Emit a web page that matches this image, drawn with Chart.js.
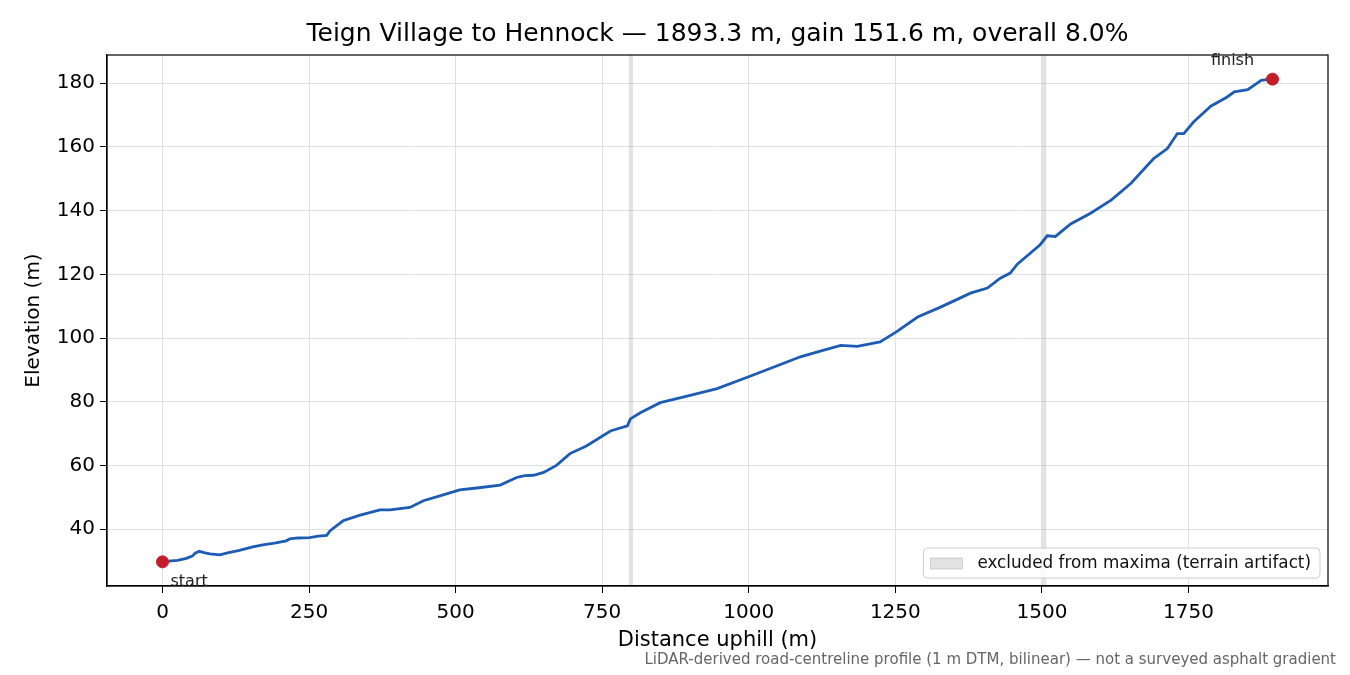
<!DOCTYPE html>
<html>
<head>
<meta charset="utf-8">
<script src="https://cdn.jsdelivr.net/npm/chart.js@4.4.1/dist/chart.umd.min.js"></script>
<style>
  html, body { margin: 0; padding: 0; background: #fff; }
  #wrap { width: 1350px; height: 675px; }
</style>
</head>
<body>
<div id="wrap"><canvas id="chart" width="1350" height="675"></canvas></div>
<script>
// profile
const distance = [0, 10.5, 25.6, 40.7, 50.7, 55.7, 62.7, 70.8, 80.8, 97.9, 111, 131, 154, 171, 191, 211, 217, 231, 251, 266, 280, 286,
  308, 337, 371, 388, 422, 445, 473, 507, 536, 576, 604, 618, 633, 650, 672, 695, 723, 764, 793, 798,
  815, 849, 900, 946, 1002, 1054, 1088, 1128, 1157, 1185, 1224, 1253, 1288, 1327, 1361, 1378, 1407, 1429,
  1446, 1458, 1497, 1509, 1523, 1549, 1583, 1618, 1652, 1691, 1714, 1731, 1742, 1759, 1788, 1816, 1828,
  1851, 1874, 1886, 1893.3];
const elevation = [29.7, 29.9, 30.2, 30.8, 31.5, 32.4, 33.0, 32.6, 32.2, 31.9, 32.5, 33.3, 34.4, 35.0, 35.6, 36.3, 36.9, 37.2, 37.3, 37.8, 38.0, 39.5,
  42.6, 44.4, 46.0, 46.0, 46.8, 48.9, 50.4, 52.3, 52.9, 53.8, 56.2, 56.8, 56.9, 57.8, 60.0, 63.7, 66.1, 70.8, 72.4, 74.6,
  76.5, 79.7, 82.0, 84.1, 88.0, 91.7, 94.1, 96.2, 97.7, 97.4, 98.8, 102.1, 106.6, 109.7, 112.6, 114.1, 115.7, 118.8,
  120.4, 123.2, 129.3, 132.1, 131.9, 135.8, 139.2, 143.3, 148.6, 156.4, 159.5, 164.2, 164.2, 167.9, 172.8, 175.7, 177.3,
  178.0, 180.9, 181.2, 181.3];

// excluded stretches (terrain artifacts)
const bandStart = [795, 1500];
const bandEnd = [803, 1508];

const xTicks = [0, 250, 500, 750, 1000, 1250, 1500, 1750];
const yTicks = [40, 60, 80, 100, 120, 140, 160, 180];

const titleText = 'Teign Village to Hennock — 1893.3 m, gain 151.6 m, overall 8.0%';
const footText = 'LiDAR-derived road-centreline profile (1 m DTM, bilinear) — not a surveyed asphalt gradient';
const bandLabel = 'excluded from maxima (terrain artifact)';

const FONT = '"DejaVu Sans", sans-serif';
const BAND_FILL = 'rgba(128,128,128,0.22)';

// matplotlib-like 5% margins
const xSpan = distance[distance.length - 1] - distance[0];
const ySpan = Math.max(...elevation) - Math.min(...elevation);
const xMin = distance[0] - xSpan * 0.05, xMax = distance[distance.length - 1] + xSpan * 0.05;
const yMin = Math.min(...elevation) - ySpan * 0.05, yMax = Math.max(...elevation) + ySpan * 0.05;

const profile = distance.map((d, i) => ({ x: d, y: elevation[i] }));
const ends = [profile[0], profile[profile.length - 1]];

const bandSets = bandStart.map((s, i) => ({
    type: 'line',
    label: bandLabel,
    data: [{ x: s, y: yMax }, { x: bandEnd[i], y: yMax }],
    borderWidth: 0,
    borderColor: 'rgba(0,0,0,0)',
    backgroundColor: BAND_FILL,
    pointRadius: 0,
    fill: 'start',
    order: 3
}));

const decorations = {
    id: 'decorations',
    afterDraw(chart) {
        const { ctx, chartArea: a, scales } = chart;
        ctx.save();
        // frame
        ctx.strokeStyle = '#000';
        ctx.lineWidth = 1.2;
        ctx.strokeRect(a.left, a.top, a.right - a.left, a.bottom - a.top);

        // title
        ctx.fillStyle = '#000';
        ctx.font = '25px ' + FONT;
        ctx.textAlign = 'center';
        ctx.textBaseline = 'middle';
        ctx.fillText(titleText, (a.left + a.right) / 2, 34);

        // start / finish notes
        ctx.font = '16px ' + FONT;
        ctx.fillStyle = '#222';
        const sx = scales.x.getPixelForValue(ends[0].x), sy = scales.y.getPixelForValue(ends[0].y);
        ctx.textAlign = 'left';
        ctx.fillText('start', sx + 8, sy + 20);
        const fx = scales.x.getPixelForValue(ends[1].x), fy = scales.y.getPixelForValue(ends[1].y);
        ctx.textAlign = 'center';
        ctx.fillText('finish', fx - 40, fy - 18);

        // legend box, lower right
        ctx.font = '16.8px ' + FONT;
        const tw = ctx.measureText(bandLabel).width;
        const bw = tw + 63, bh = 30;
        const bx = a.right - 8 - bw, by = a.bottom - 8 - bh;
        ctx.fillStyle = 'rgba(255,255,255,0.85)';
        ctx.strokeStyle = '#cccccc';
        ctx.lineWidth = 1;
        ctx.beginPath();
        ctx.roundRect(bx, by, bw, bh, 4);
        ctx.fill();
        ctx.stroke();
        ctx.fillStyle = BAND_FILL;
        ctx.fillRect(bx + 7, by + 10, 32, 11);
        ctx.strokeStyle = 'rgba(128,128,128,0.3)';
        ctx.strokeRect(bx + 7, by + 10, 32, 11);
        ctx.fillStyle = '#111';
        ctx.textAlign = 'left';
        ctx.fillText(bandLabel, bx + 54, by + bh / 2 + 1);

        // footnote
        ctx.font = '15px ' + FONT;
        ctx.fillStyle = '#666';
        ctx.textAlign = 'right';
        ctx.fillText(footText, 1336, 660);
        ctx.restore();
    }
};

new Chart(document.getElementById('chart'), {
    type: 'line',
    data: {
        datasets: [
            ...bandSets,
            {
                label: 'profile',
                data: profile,
                borderColor: '#1c5cb4',
                borderWidth: 2.8,
                pointRadius: 0,
                tension: 0,
                fill: false,
                order: 2
            },
            {
                type: 'scatter',
                label: 'ends',
                data: ends,
                backgroundColor: '#c21d2b',
                borderColor: '#c21d2b',
                pointRadius: 6,
                order: 1
            }
        ]
    },
    options: {
        responsive: false,
        animation: false,
        layout: { padding: { top: 55, right: 22, left: 0, bottom: 0 } },
        plugins: {
            legend: { display: false },
            title: { display: false },
            tooltip: { enabled: false }
        },
        scales: {
            x: {
                type: 'linear',
                min: xMin,
                max: xMax,
                afterBuildTicks: axis => { axis.ticks = xTicks.map(v => ({ value: v })); },
                afterFit: axis => { axis.height = 89; },
                grid: { color: '#e0e0e0', lineWidth: 1, tickColor: '#000', tickLength: 7 },
                border: { display: true, color: '#000', width: 1.2 },
                ticks: { color: '#000', font: { family: FONT, size: 20 }, padding: 8, maxRotation: 0, callback: v => String(v) },
                title: { display: true, text: 'Distance uphill (m)', color: '#000', font: { family: FONT, size: 21 }, padding: { top: 0, bottom: 22 } }
            },
            y: {
                type: 'linear',
                min: yMin,
                max: yMax,
                afterBuildTicks: axis => { axis.ticks = yTicks.map(v => ({ value: v })); },
                afterFit: axis => { axis.width = 107; },
                grid: { color: '#e0e0e0', lineWidth: 1, tickColor: '#000', tickLength: 7 },
                border: { display: true, color: '#000', width: 1.2 },
                ticks: { color: '#000', font: { family: FONT, size: 20 }, padding: 5, callback: v => String(v) },
                title: { display: true, text: 'Elevation (m)', color: '#000', font: { family: FONT, size: 20 }, padding: { top: 22, bottom: 0 } }
            }
        }
    },
    plugins: [decorations]
});
</script>
</body>
</html>
